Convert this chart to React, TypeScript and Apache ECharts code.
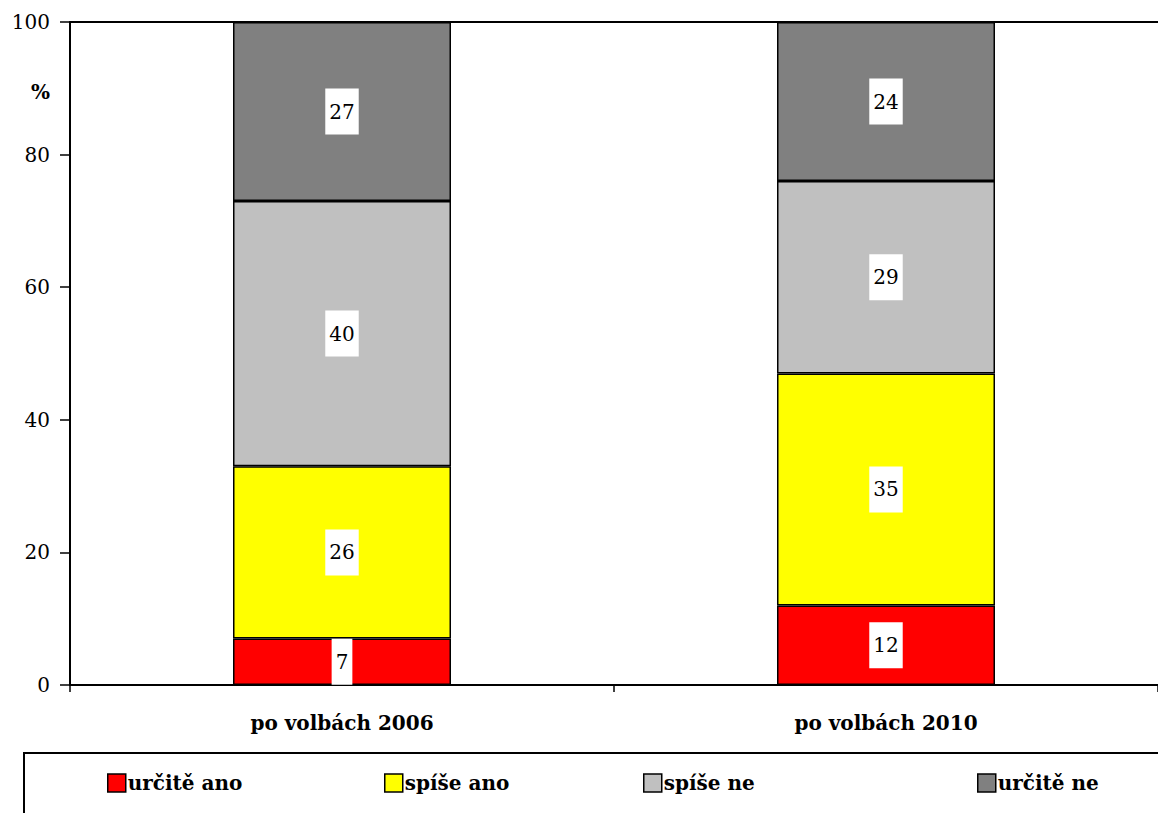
import React, { useEffect, useRef } from "react";
import * as echarts from "echarts";

const categories = ["po volbách 2006", "po volbách 2010"];
const seriesNames = ["určitě ano", "spíše ano", "spíše ne", "určitě ne"];
const seriesColors = ["#FF0000", "#FFFF00", "#C0C0C0", "#808080"];
const urciteAno = [7, 12];
const spiseAno = [26, 35];
const spiseNe = [40, 29];
const urciteNe = [27, 24];
const yTicks = { min: 0, max: 100, interval: 20 };
const legendLeft = [107, 384, 643, 977];

const FONT = "DejaVu Serif";

export default function App() {
  const ref = useRef<HTMLDivElement>(null);
  useEffect(() => {
    if (!ref.current) return;
    const chart = echarts.init(ref.current, null, { renderer: "svg" });
    const values = [urciteAno, spiseAno, spiseNe, urciteNe];
    const series = seriesNames.map((name, i) => ({
      name,
      type: "bar",
      stack: "total",
      barWidth: 218,
      data: values[i],
      itemStyle: { color: seriesColors[i], borderColor: "#000", borderWidth: 1.5 },
      label: {
        show: true,
        position: "inside",
        color: "#000",
        fontFamily: FONT,
        fontSize: 20,
        lineHeight: 20,
        backgroundColor: "#fff",
        padding: [13, 4],
      },
    }));
    const legends = seriesNames.map((name, i) => ({
      data: [name],
      left: legendLeft[i],
      top: 773,
      padding: 0,
      itemWidth: 18,
      itemHeight: 18,
      icon: "rect",
      itemStyle: { borderColor: "#000", borderWidth: 1.5 },
      textStyle: {
        fontFamily: FONT,
        fontSize: 20,
        fontWeight: "bold",
        color: "#000",
        padding: [0, 0, 0, -3],
      },
    }));
    chart.setOption({
      animation: false,
      backgroundColor: "#fff",
      textStyle: { fontFamily: FONT, fontSize: 20 },
      grid: { left: 70, top: 22, width: 1092, height: 663, containLabel: false },
      legend: legends,
      xAxis: [
        {
          type: "category",
          data: categories,
          position: "bottom",
          axisLine: { lineStyle: { color: "#000", width: 2 } },
          axisTick: { show: true, length: 7, lineStyle: { color: "#000", width: 1.5 } },
          axisLabel: {
            color: "#000",
            fontFamily: FONT,
            fontSize: 20,
            fontWeight: "bold",
            margin: 28,
          },
        },
        {
          type: "category",
          data: categories,
          position: "top",
          axisLine: { lineStyle: { color: "#000", width: 2 } },
          axisTick: { show: false },
          axisLabel: { show: false },
        },
      ],
      yAxis: {
        type: "value",
        min: yTicks.min,
        max: yTicks.max,
        interval: yTicks.interval,
        axisLine: { show: true, lineStyle: { color: "#000", width: 2 } },
        axisTick: { show: true, length: 10, lineStyle: { color: "#000", width: 1.5 } },
        splitLine: { show: false },
        axisLabel: { color: "#000", fontFamily: FONT, fontSize: 20, margin: 20 },
      },
      graphic: [
        {
          type: "text",
          right: 1158 - 50,
          top: 82,
          style: {
            text: "%",
            font: "bold 20px 'DejaVu Serif'",
            fill: "#000",
          },
        },
        {
          type: "rect",
          shape: { x: 24, y: 753, width: 1200, height: 120 },
          style: { fill: "none", stroke: "#000", lineWidth: 2 },
          silent: true,
        },
      ],
      series,
    });
    return () => chart.dispose();
  }, []);
  return (
    <div
      ref={ref}
      style={{ position: "absolute", left: 0, top: 0, width: 1158, height: 813 }}
    />
  );
}
